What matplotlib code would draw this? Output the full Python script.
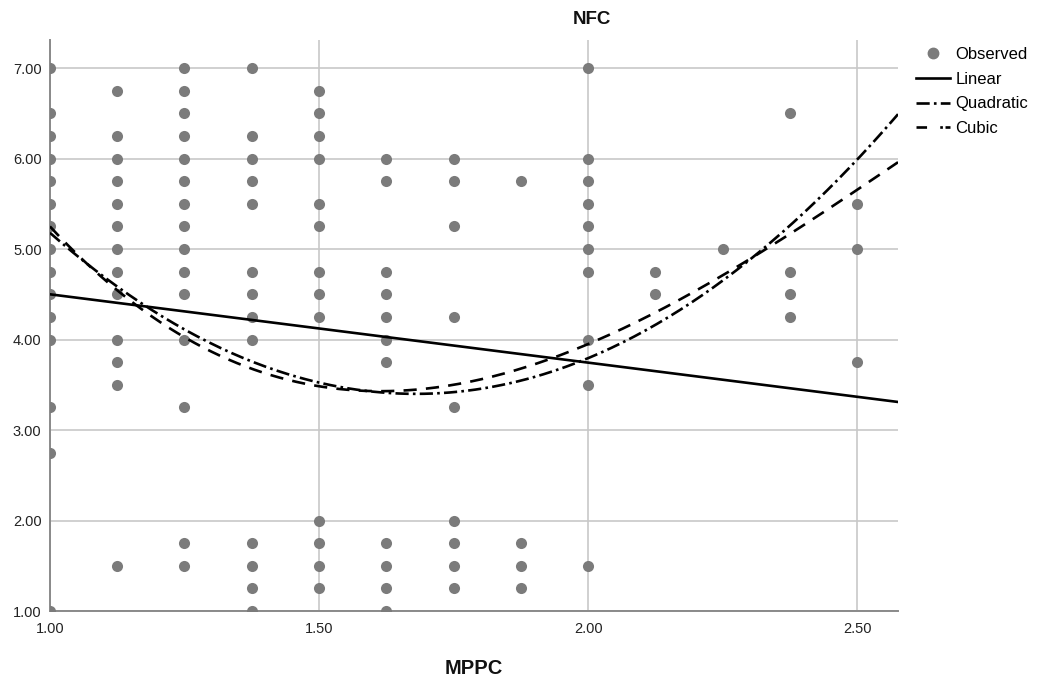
import matplotlib
matplotlib.use("Agg")
import matplotlib.pyplot as plt
from matplotlib.lines import Line2D
import numpy as np

# observed NFC values, grouped by MPPC level
mppc_levels = [1.0, 1.125, 1.25, 1.375, 1.5, 1.625, 1.75, 1.875, 2.0, 2.125, 2.25, 2.375, 2.5]
nfc_by_level = [
    [7.00, 6.50, 6.25, 6.00, 5.75, 5.50, 5.25, 5.00, 4.75, 4.50, 4.25, 4.00, 3.25, 2.75, 1.00],
    [6.75, 6.25, 6.00, 5.75, 5.50, 5.25, 5.00, 4.75, 4.50, 4.00, 3.75, 3.50, 1.50],
    [7.00, 6.75, 6.50, 6.25, 6.00, 5.75, 5.50, 5.25, 5.00, 4.75, 4.50, 4.00, 3.25, 1.75, 1.50],
    [7.00, 6.25, 6.00, 5.75, 5.50, 4.75, 4.50, 4.25, 4.00, 1.75, 1.50, 1.25, 1.00],
    [6.75, 6.50, 6.25, 6.00, 5.50, 5.25, 4.75, 4.50, 4.25, 2.00, 1.75, 1.50, 1.25],
    [6.00, 5.75, 4.75, 4.50, 4.25, 4.00, 3.75, 1.75, 1.50, 1.25, 1.00],
    [6.00, 5.75, 5.25, 4.25, 3.25, 2.00, 1.75, 1.50, 1.25],
    [5.75, 1.75, 1.50, 1.25],
    [7.00, 6.00, 5.75, 5.50, 5.25, 5.00, 4.75, 4.00, 3.50, 1.50],
    [4.75, 4.50],
    [5.00],
    [6.50, 4.75, 4.50, 4.25],
    [5.50, 5.00, 3.75],
]

# fitted curve coefficients (highest power first)
linear_coef = [-0.755, 5.255]
quadratic_coef = [3.85, -12.936, 14.266]
cubic_coef = [-1.3246, 10.4250, -23.3029, 19.4525]

x_min, x_max = 1.0, 2.576
y_min, y_max = 1.0, 7.31
x_ticks = [1.0, 1.5, 2.0, 2.5]
y_ticks = [1, 2, 3, 4, 5, 6, 7]

plt.rcParams["font.family"] = ["Liberation Sans", "DejaVu Sans"]

fig = plt.figure(figsize=(10.4, 6.83), dpi=100)
ax = fig.add_axes([0.048, 0.1054, 0.8155, 0.836])

obs_x = [x for x, ys in zip(mppc_levels, nfc_by_level) for _ in ys]
obs_y = [y for ys in nfc_by_level for y in ys]
ax.scatter(obs_x, obs_y, s=64, color="#7b7b7b", linewidths=0, zorder=3)

quad_dash = (5, 1.6, 1, 1.6)
cubic_dash = (5, 3.5)
xs = np.linspace(x_min, x_max, 300)
ax.plot(xs, np.polyval(linear_coef, xs), color="black", lw=1.9, zorder=4)
ax.plot(xs, np.polyval(quadratic_coef, xs), color="black", lw=1.9,
        dashes=quad_dash, zorder=4)
ax.plot(xs, np.polyval(cubic_coef, xs), color="black", lw=1.9,
        dashes=cubic_dash, zorder=4)

ax.set_xlim(x_min, x_max)
ax.set_ylim(y_min, y_max)
ax.set_xticks(x_ticks)
ax.set_yticks(y_ticks)
ax.set_xticklabels([f"{v:.2f}" for v in x_ticks])
ax.set_yticklabels([f"{v:.2f}" for v in y_ticks])
ax.tick_params(axis="both", length=0, labelsize=10.5, colors="#222222")
ax.tick_params(axis="x", pad=8)
ax.tick_params(axis="y", pad=6)
ax.grid(True, color="#c8c8c8", lw=1.2)
ax.set_axisbelow(True)
for side in ("top", "right"):
    ax.spines[side].set_visible(False)
for side in ("left", "bottom"):
    ax.spines[side].set_color("#8a8a8a")
    ax.spines[side].set_linewidth(1.4)

fig.text(0.569, 0.972, "NFC", ha="center", va="center",
         fontsize=13.5, fontweight="bold", color="#111111")
fig.text(0.456, 0.021, "MPPC", ha="center", va="center",
         fontsize=14.5, fontweight="bold", color="#111111")

handles = [
    Line2D([], [], ls="none", marker="o", ms=7.5, color="#7b7b7b"),
    Line2D([], [], color="black", lw=1.9),
    Line2D([], [], color="black", lw=1.9, dashes=quad_dash),
    Line2D([], [], color="black", lw=1.9, dashes=(4, 5, 1, 1)),
]
labels = ["Observed", "Linear", "Quadratic", "Cubic"]
fig.legend(handles, labels, loc="upper left", bbox_to_anchor=(0.881, 0.931),
           frameon=False, fontsize=12, handlelength=2.0, handletextpad=0.35,
           labelspacing=0.58, borderaxespad=0, borderpad=0)

fig.savefig("out.png", dpi=100)
